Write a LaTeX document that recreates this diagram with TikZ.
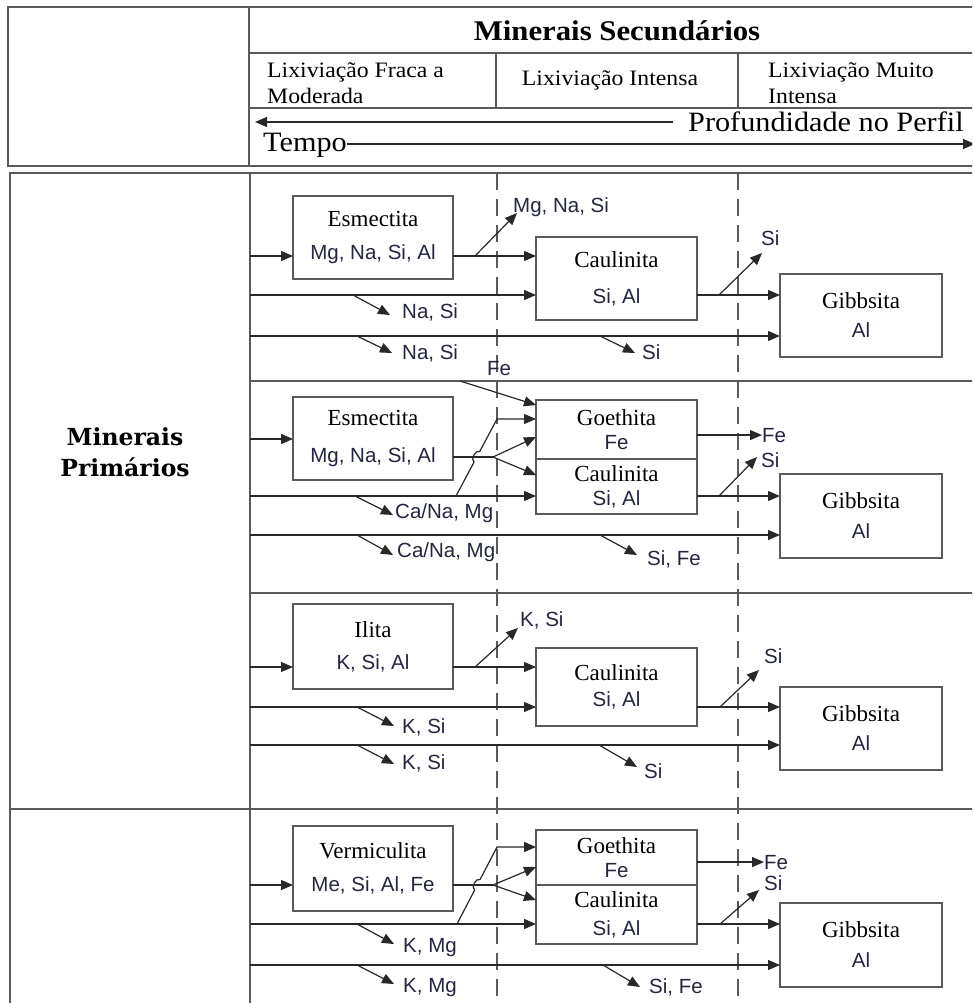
\documentclass[tikz,border=0pt]{standalone}
\usepackage{fontspec}
\setmainfont{Liberation Serif}
\newfontfamily\hdrfont[FakeStretch=1.08]{Liberation Serif}
\newfontfamily\elemfont{Liberation Sans}
\newfontfamily\primfont{DejaVu Serif}
\usepackage{xcolor}
\usepackage{tikz}
\usetikzlibrary{arrows.meta,positioning,calc}
\definecolor{mline}{RGB}{40,40,40}
\definecolor{mgrid}{RGB}{90,90,90}
\definecolor{mtext}{RGB}{36,38,64}
\newcommand{\ttl}[1]{{\fontsize{23}{26}\selectfont #1}}
\newcommand{\elem}[1]{{\elemfont\color{mtext}#1}}
\tikzset{
  mbox/.style ={rectangle, draw=mgrid, line width=1.3pt, fill=white,
                minimum width=161pt, minimum height=83pt, align=center,
                inner sep=0pt, outer sep=0pt, font=\fontsize{20.5}{24}\selectfont},
  lbl/.style  ={anchor=base west, inner sep=0pt, text=mtext,
                font=\elemfont\fontsize{20.5}{24}\selectfont},
  hdr/.style  ={inner sep=0pt, font=\hdrfont\fontsize{22}{26}\selectfont},
  big/.style  ={inner sep=0pt, font=\hdrfont\fontsize{28}{30}\selectfont},
  ar/.style   ={-{Triangle[length=12pt,width=10pt]}, draw=mline, line width=1.2pt},
  ln/.style   ={draw=mline, line width=1.2pt},
  grid/.style ={draw=mgrid, line width=1.4pt},
  dsh/.style  ={draw=mgrid, line width=1.2pt, dash pattern=on 17pt off 9pt}
}
\begin{document}
\begin{tikzpicture}[x=1pt, y=-1pt]
\useasboundingbox (0,0) rectangle (972,1003);
\clip (0,0) rectangle (972,1003);
% table frame
\draw[grid] (990,7) -- (8,7) -- (8,166) -- (990,166);
\draw[grid] (249,7) -- (249,166);
\draw[grid] (249,53) -- (990,53);
\draw[grid] (249,108) -- (990,108);
\draw[grid] (496,53) -- (496,108);
\draw[grid] (738,53) -- (738,108);
\draw[grid] (990,173) -- (10,173) -- (10,1010);
\draw[grid] (250,173) -- (250,1010);
\draw[grid] (10,809) -- (990,809);
\draw[grid] (250,381) -- (990,381);
\draw[grid] (250,593) -- (990,593);
\draw[dsh] (497,173) -- (497,1010);
\draw[dsh] (738,173) -- (738,1010);

% header
\node[hdr, anchor=base, font=\hdrfont\bfseries\fontsize{28.5}{30}\selectfont] (sec) at (617,41) {Minerais Secundários};
\node[hdr, anchor=north west, align=left] (fraca) at (267,62) {Lixiviação Fraca a\\Moderada};
\node[hdr, anchor=base] (intensa) at (610,86) {Lixiviação Intensa};
\node[hdr, anchor=north west, align=left] (muito) at (768,62) {Lixiviação Muito\\Intensa};
\node[big, anchor=base west] (prof) at (688,132) {Profundidade no Perfil};
\node[big, anchor=base west] (tempo) at (263,152) {Tempo};
\coordinate (pend) at (255,122);
\coordinate (tend) at (975,144);
\draw[ar] ([xshift=-15pt]pend -| prof.west) -- (pend);
\draw[ar] (tempo.east |- tend) -- (tend);

\node[font=\primfont\bfseries\fontsize{23.5}{31}\selectfont, align=center] (prim) at (125,452) {Minerais\\Primários};

% esmectita
\node[mbox, minimum width=160pt] (esm1) at (373,237.5) {\ttl{Esmectita}\\[9pt]\elem{Mg, Na, Si, Al}};
\node[mbox] (cau1) at (616.5,278.5) {\ttl{Caulinita}\\[12pt]\elem{Si, Al}};
\node[mbox, minimum width=162pt] (gib1) at (861,315.5) {\ttl{Gibbsita}\\[5pt]\elem{Al}};
\node[lbl] (mns1) at (513,212) {Mg, Na, Si};
\node[lbl] (nas1) at (402,318) {Na, Si};
\node[lbl] (nas2) at (402,359) {Na, Si};
\node[lbl] (si1) at (642,359) {Si};
\node[lbl] (si2) at (761,245) {Si};
\coordinate (a1) at (250,256);
\coordinate (b1) at (250,295);
\coordinate (c1) at (250,336);
\draw[ar] (a1) -- (a1 -| esm1.west);
\draw[ar] (a1 -| esm1.east) -- (a1 -| cau1.west);
\draw[ar] (b1) -- (b1 -| cau1.west);
\draw[ar] (b1 -| cau1.east) -- (b1 -| gib1.west);
\draw[ar] (c1) -- (c1 -| gib1.west);
\draw[ar] ([xshift=225pt]a1) -- ([shift={(4,1)}]mns1.base west);
\draw[ar] ([xshift=103pt]b1) -- ([shift={(-12,-3)}]nas1.base west);
\draw[ar] ([xshift=107pt]c1) -- ([shift={(-10,-6)}]nas2.base west);
\draw[ar] ([xshift=350pt]c1) -- ([shift={(-7,-6)}]si1.base west);
\draw[ar] ($(b1 -| cau1.east)+(22,0)$) -- ([shift={(1,8)}]si2.base west);

% esmectita com ferro
\node[mbox, minimum width=160pt] (esm2) at (373,438.5) {\ttl{Esmectita}\\[13pt]\elem{Mg, Na, Si, Al}};
\node[mbox, minimum height=59pt] (goe2) at (616.5,429.5) {\ttl{Goethita}\\\elem{Fe}};
\node[mbox, minimum height=55pt, below=0pt of goe2] (cau2) {\ttl{Caulinita}\\\elem{Si, Al}};
\node[mbox, minimum width=162pt, minimum height=84pt] (gib2) at (861,516) {\ttl{Gibbsita}\\[6pt]\elem{Al}};
\node[lbl] (fe1) at (487,375) {Fe};
\node[lbl] (cna1) at (395,518) {Ca/Na, Mg};
\node[lbl] (cna2) at (397,557) {Ca/Na, Mg};
\node[lbl] (sife1) at (647,565) {Si, Fe};
\node[lbl] (fe2) at (762,442) {Fe};
\node[lbl] (si3) at (761,467) {Si};
\coordinate (s2) at (250,381);
\coordinate (a2) at (250,439);
\coordinate (k2) at (493,457);
\coordinate (b2) at (250,496);
\coordinate (c2) at (250,535);
\coordinate (x2a) at (456,496);
\coordinate (x2b) at (497,419);
\draw[ar] ([xshift=210pt]s2) -- ([yshift=-5pt]goe2.north west);
\draw[ar] (a2) -- (a2 -| esm2.west);
\draw[ln] (k2 -| esm2.east) -- (k2);
\draw[ar] (k2) -- ($(k2 -| goe2.west)+(0,-20)$);
\draw[ar] (k2) -- ($(k2 -| cau2.west)+(0,18)$);
\draw[ar] (b2) -- (b2 -| cau2.west);
\draw[ar] (x2a) -- ($(x2a)!0.44!(x2b)$) to[bend left=80] ($(x2a)!0.58!(x2b)$) -- (x2b) -- (x2b -| goe2.west);
\draw[ar] ([xshift=105pt]b2) -- ([shift={(-2,-3)}]cna1.base west);
\draw[ar] ([xshift=107pt]c2) -- ([shift={(-4,-2)}]cna2.base west);
\draw[ar] ([xshift=350pt]c2) -- ([shift={(-10,-10)}]sife1.base west);
\draw[ar] (fe2.west -| goe2.east) -- (fe2.west);
\draw[ar] (b2 -| cau2.east) -- (b2 -| gib2.west);
\draw[ar] ($(b2 -| cau2.east)+(22,0)$) -- ([shift={(-4,-10)}]si3.base west);
\draw[ar] (c2) -- (c2 -| gib2.west);

% ilita
\node[mbox, minimum width=160pt, minimum height=85pt] (ili) at (373,646.5) {\ttl{Ilita}\\[8pt]\elem{K, Si, Al}};
\node[mbox, minimum height=78pt] (cau3) at (616.5,687) {\ttl{Caulinita}\\[2pt]\elem{Si, Al}};
\node[mbox, minimum width=162pt] (gib3) at (861,728.5) {\ttl{Gibbsita}\\[5pt]\elem{Al}};
\node[lbl] (ksi1) at (520,626) {K, Si};
\node[lbl] (ksi2) at (402,733) {K, Si};
\node[lbl] (ksi3) at (402,769) {K, Si};
\node[lbl] (si4) at (644,778) {Si};
\node[lbl] (si5) at (764,663) {Si};
\coordinate (a3) at (250,667);
\coordinate (b3) at (250,707);
\coordinate (c3) at (250,745);
\draw[ar] (a3) -- (a3 -| ili.west);
\draw[ar] (a3 -| ili.east) -- (a3 -| cau3.west);
\draw[ar] ($(a3 -| ili.east)+(22,0)$) -- ([shift={(-2,2)}]ksi1.base west);
\draw[ar] (b3) -- (b3 -| cau3.west);
\draw[ar] (b3 -| cau3.east) -- (b3 -| gib3.west);
\draw[ar] ([xshift=107pt]b3) -- ([shift={(-8,-7)}]ksi2.base west);
\draw[ar] ($(b3 -| cau3.east)+(23,0)$) -- ([shift={(-5,7)}]si5.base west);
\draw[ar] (c3) -- (c3 -| gib3.west);
\draw[ar] ([xshift=107pt]c3) -- ([shift={(-8,-5)}]ksi3.base west);
\draw[ar] ([xshift=349pt]c3) -- ([shift={(-7,-11)}]si4.base west);

% vermiculita
\node[mbox, minimum width=160pt, minimum height=85pt] (ver) at (373,868.5) {\ttl{Vermiculita}\\[9pt]\elem{Me, Si, Al, Fe}};
\node[mbox, minimum height=55pt] (goe4) at (616.5,857.5) {\ttl{Goethita}\\\elem{Fe}};
\node[mbox, minimum height=59pt, below=0pt of goe4] (cau4) {\ttl{Caulinita}\\[4pt]\elem{Si, Al}};
\node[mbox, minimum width=162pt, minimum height=84pt] (gib4) at (861,945) {\ttl{Gibbsita}\\[6pt]\elem{Al}};
\node[lbl] (kmg1) at (403,952) {K, Mg};
\node[lbl] (kmg2) at (403,992) {K, Mg};
\node[lbl] (sife2) at (649,993) {Si, Fe};
\node[lbl] (fe3) at (764,869) {Fe};
\node[lbl] (si6) at (764,890) {Si};
\coordinate (a4) at (250,885);
\coordinate (k4) at (493,885);
\coordinate (b4) at (250,924);
\coordinate (c4) at (250,965);
\coordinate (x4a) at (457,924);
\coordinate (x4b) at (497,847);
\draw[ar] (a4) -- (a4 -| ver.west);
\draw[ln] (a4 -| ver.east) -- (k4);
\draw[ar] (k4) -- ($(k4 -| goe4.west)+(0,-18)$);
\draw[ar] (k4) -- ($(k4 -| cau4.west)+(0,15)$);
\draw[ar] (b4) -- (b4 -| cau4.west);
\draw[ar] (x4a) -- ($(x4a)!0.44!(x4b)$) to[bend left=80] ($(x4a)!0.58!(x4b)$) -- (x4b) -- (x4b -| goe4.west);
\draw[ar] ([xshift=107pt]b4) -- ([shift={(-9,-8)}]kmg1.base west);
\draw[ar] (fe3.west -| goe4.east) -- (fe3.west);
\draw[ar] (b4 -| cau4.east) -- (b4 -| gib4.west);
\draw[ar] ($(b4 -| cau4.east)+(23,0)$) -- ([shift={(-5,0)}]si6.base west);
\draw[ar] (c4) -- (c4 -| gib4.west);
\draw[ar] ([xshift=107pt]c4) -- ([shift={(-9,-8)}]kmg2.base west);
\draw[ar] ([xshift=353pt]c4) -- ([shift={(-9,-6)}]sife2.base west);
\end{tikzpicture}
\end{document}
